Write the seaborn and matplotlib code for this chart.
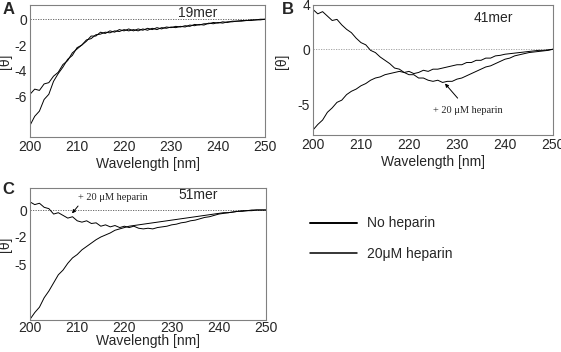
import matplotlib
matplotlib.use("Agg")
import matplotlib.pyplot as plt
from matplotlib.lines import Line2D
import numpy as np
import seaborn as sns

# wavelength grid (nm), 1 nm steps
wavelength = np.arange(200, 251)

# panel A, 19mer
a_no_heparin = [-5.8, -5.4, -5.5, -5.0, -4.9, -4.4, -4.1, -3.5, -3.2, -2.6,
                -2.3, -2.0, -1.6, -1.5, -1.2, -1.15, -1.0, -1.05, -0.9, -0.95,
                -0.8, -0.9, -0.8, -0.9, -0.75, -0.85, -0.7, -0.8, -0.65, -0.7,
                -0.6, -0.65, -0.55, -0.6, -0.45, -0.5, -0.4, -0.45, -0.3, -0.35,
                -0.25, -0.3, -0.2, -0.2, -0.15, -0.15, -0.1, -0.1, -0.05, -0.05, 0.0]
a_heparin = [-8.2, -7.5, -7.1, -6.2, -5.8, -4.8, -4.2, -3.7, -3.1, -2.8,
             -2.2, -2.0, -1.7, -1.3, -1.3, -1.0, -1.1, -0.9, -1.0, -0.8,
             -0.9, -0.75, -0.9, -0.75, -0.85, -0.7, -0.8, -0.65, -0.75, -0.6,
             -0.65, -0.55, -0.6, -0.5, -0.55, -0.4, -0.45, -0.35, -0.35, -0.25,
             -0.3, -0.2, -0.25, -0.15, -0.15, -0.1, -0.1, -0.05, -0.05, 0.0, 0.0]

# panel B, 41mer
b_heparin = [3.6, 3.2, 3.4, 3.0, 2.6, 2.7, 2.2, 1.8, 1.5, 1.0,
             0.6, 0.4, -0.1, -0.3, -0.7, -1.0, -1.3, -1.7, -1.8, -2.1,
             -2.3, -2.3, -2.6, -2.6, -2.8, -2.9, -2.8, -3.0, -2.9, -2.9,
             -2.7, -2.6, -2.4, -2.2, -2.0, -1.8, -1.6, -1.5, -1.3, -1.1,
             -0.9, -0.8, -0.6, -0.5, -0.4, -0.3, -0.25, -0.2, -0.15, -0.1, 0.0]
b_no_heparin = [-7.3, -6.8, -6.4, -5.7, -5.3, -4.8, -4.6, -4.1, -3.8, -3.6,
                -3.3, -3.1, -2.8, -2.6, -2.5, -2.3, -2.2, -2.1, -2.0, -2.1,
                -2.0, -2.2, -2.1, -1.9, -2.0, -1.8, -1.8, -1.7, -1.6, -1.5,
                -1.4, -1.4, -1.2, -1.2, -1.0, -1.0, -0.8, -0.8, -0.6, -0.55,
                -0.45, -0.4, -0.35, -0.3, -0.25, -0.2, -0.15, -0.1, -0.1, -0.05, 0.0]

# panel C, 51mer
c_heparin = [0.6, 0.4, 0.5, 0.2, 0.1, -0.3, -0.2, -0.4, -0.6, -0.5,
             -0.8, -0.9, -0.8, -1.0, -0.95, -1.2, -1.1, -1.25, -1.15, -1.3,
             -1.2, -1.3, -1.2, -1.35, -1.4, -1.35, -1.4, -1.3, -1.25, -1.2,
             -1.1, -1.05, -0.95, -0.9, -0.8, -0.75, -0.65, -0.55, -0.5, -0.4,
             -0.3, -0.25, -0.2, -0.15, -0.1, -0.1, -0.05, -0.05, 0.0, 0.0, 0.0]
c_no_heparin = [-8.1, -7.6, -7.2, -6.5, -6.0, -5.4, -4.8, -4.45, -3.95, -3.55,
                -3.3, -2.95, -2.7, -2.45, -2.2, -2.0, -1.85, -1.7, -1.5, -1.4,
                -1.3, -1.2, -1.15, -1.1, -1.05, -1.0, -0.95, -0.9, -0.85, -0.8,
                -0.75, -0.7, -0.65, -0.6, -0.55, -0.5, -0.45, -0.4, -0.35, -0.3,
                -0.25, -0.2, -0.2, -0.15, -0.1, -0.05, -0.05, 0.0, 0.0, 0.0, 0.0]

sns.set_style("white")
plt.rcParams["font.family"] = ["Liberation Sans", "DejaVu Sans"]

fig = plt.figure(figsize=(5.61, 3.52), dpi=100)

panels = [
    # letter, rect, curves, ylim, ticks, ticklabels, name, name_xy, ylabel_x, xlabelpad
    ("A", [0.0535, 0.6108, 0.419, 0.375], [a_no_heparin, a_heparin],
     (-9.1, 1.1), [0, -2, -4, -6], ["0", "-2", "-4", "-6"], "19mer", (235.7, 0.45),
     -0.078, 2),
    ("B", [0.5579, 0.6165, 0.4278, 0.3693], [b_heparin, b_no_heparin],
     (-7.75, 4.0), [4, 0, -5], ["4", "0", "-5"], "41mer", (237.5, 2.8),
     -0.1, 2),
    ("C", [0.0535, 0.0909, 0.4207, 0.375], [c_heparin, c_no_heparin],
     (-8.15, 1.63), [0, -2, -4.07], ["0", "-2", "-5"], "51mer", (235.6, 1.1),
     -0.078, -1),
]

axes = {}
for letter, rect, curves, ylim, yt, ytl, name, name_xy, ylx, xpad in panels:
    ax = fig.add_axes(rect)
    for vals in curves:
        sns.lineplot(x=wavelength, y=vals, ax=ax, color="black", lw=0.7)
    ax.axhline(0, color="#555555" if letter != "B" else "#999999",
               ls=(0, (1.5, 1.5)), lw=0.6, zorder=0)
    ax.set_xlim(200, 250)
    ax.set_ylim(*ylim)
    ax.set_xticks([200, 210, 220, 230, 240, 250])
    ax.set_xticks([205, 215, 225, 235, 245], minor=True)
    ax.set_yticks(yt)
    ax.set_yticklabels(ytl)
    ax.tick_params(axis="both", which="both", direction="in", length=3,
                   width=0.6, color="#808080", labelsize=10, pad=2)
    if letter == "C":
        ax.tick_params(axis="x", pad=1)
    for s in ax.spines.values():
        s.set_color("#808080")
        s.set_linewidth(0.8)
    ax.set_xlabel("Wavelength [nm]", fontsize=10, labelpad=xpad)
    ax.set_ylabel("[θ]", fontsize=10)
    ax.yaxis.set_label_coords(ylx, 0.57)
    ax.text(name_xy[0], name_xy[1], name, ha="center", va="center", fontsize=10)
    axes[letter] = ax

fig.text(0.004, 0.995, "A", fontsize=12, fontweight="bold", va="top")
fig.text(0.503, 0.995, "B", fontsize=12, fontweight="bold", va="top")
fig.text(0.004, 0.482, "C", fontsize=12, fontweight="bold", va="top")

serif = ["Liberation Serif", "DejaVu Serif"]
axes["B"].annotate("+ 20 μM heparin", xy=(227.5, -3.1), xytext=(232.3, -5.5),
                   ha="center", va="center", fontsize=7.5, family=serif,
                   arrowprops=dict(arrowstyle="-|>", color="black", lw=0.7,
                                   mutation_scale=5, shrinkA=4, shrinkB=0))
axes["C"].annotate("+ 20 μM heparin", xy=(208.9, -0.25), xytext=(210.2, 0.95),
                   ha="left", va="center", fontsize=7.5, family=serif,
                   arrowprops=dict(arrowstyle="-|>", color="black", lw=0.7,
                                   mutation_scale=5, shrinkA=1, shrinkB=0,
                                   relpos=(0.05, 0.0)))

handles = [Line2D([], [], color="black", lw=1.4), Line2D([], [], color="black", lw=1.1)]
fig.legend(handles, ["No heparin", "20μM heparin"], loc="upper left",
           bbox_to_anchor=(0.5526, 0.385), frameon=False, fontsize=10,
           handlelength=3.4, handletextpad=0.7, labelspacing=1.2,
           borderpad=0, borderaxespad=0)

fig.savefig("out.png", dpi=100)
